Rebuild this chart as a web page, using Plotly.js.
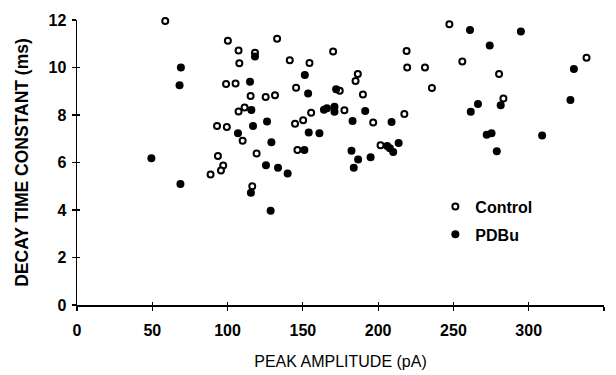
<!DOCTYPE html>
<html>
<head>
<meta charset="utf-8">
<script src="https://cdn.plot.ly/plotly-3.0.1.min.js"></script>
<style>html,body{margin:0;padding:0;background:#fff;}#chart{width:616px;height:375px;}</style>
</head>
<body>
<div id="chart"></div>
<script>
var controlX = [58.6,100.2,99,93,99.5,132.9,107.3,118.2,107.8,141.3,154.4,170.1,105.3,145.5,174.5,186.5,185,189.9,115.3,125.3,131.5,107.3,111.3,144.8,150.2,155.5,177.6,196.7,247.3,218.9,219.3,231.1,255.9,338.4,280.3,235.7,283.2,217.4,93.6,97.1,95.6,88.7,110,119.3,116.4,146.4,201.6];
var controlY = [11.96,11.13,9.3,7.54,7.5,11.21,10.72,10.62,10.18,10.3,10.19,10.67,9.33,9.15,9.02,9.73,9.43,8.86,8.8,8.76,8.83,8.15,8.32,7.63,7.78,8.1,8.2,7.68,11.82,10.69,10.0,10.0,10.25,10.41,9.73,9.14,8.69,8.04,6.27,5.87,5.66,5.49,6.92,6.38,5.0,6.53,6.73];
var pdbuX = [69,68.1,118.2,151.3,114.9,153.5,172.1,115.8,126.2,116.9,164,166,171,171,191.4,183,261,294.8,274.1,330,281.4,266.3,261.5,327.7,208.9,49.4,68.7,106.9,129.1,125.5,133.5,139.9,115.5,128.6,153.9,161,151,182.3,186.7,195,183.8,206,207.8,210,213.6,272.1,275.3,308.9,278.8];
var pdbuY = [10.0,9.25,10.46,9.68,9.40,8.91,9.08,8.21,7.73,7.54,8.22,8.28,8.35,8.14,8.17,7.75,11.58,11.52,10.93,9.94,8.41,8.46,8.14,8.63,7.71,6.18,5.09,7.23,6.85,5.88,5.78,5.54,4.73,3.97,7.26,7.23,6.53,6.5,6.13,6.22,5.78,6.69,6.6,6.44,6.82,7.17,7.23,7.14,6.47];
var xTicks = [0,50,100,150,200,250,300,350];
var yTicks = [0,2,4,6,8,10,12];
var seriesNames = ['Control','PDBu'];
var xTitle = 'PEAK AMPLITUDE (pA)';
var yTitle = 'DECAY TIME CONSTANT (ms)';

var FONT = 'Liberation Sans, Arial, sans-serif';
var traces = [
  {x: controlX, y: controlY, name: seriesNames[0], legendgroup: 'a', type: 'scatter', mode: 'markers', cliponaxis: false,
   marker: {symbol: 'circle', size: 6, color: '#ffffff', line: {color: '#000000', width: 2}}},
  {x: pdbuX, y: pdbuY, name: seriesNames[1], legendgroup: 'b', type: 'scatter', mode: 'markers', cliponaxis: false,
   marker: {symbol: 'circle', size: 8, color: '#000000', line: {width: 0}}},
  {x: [], y: [], xaxis: 'x2', yaxis: 'y2', type: 'scatter', mode: 'markers', showlegend: false, hoverinfo: 'skip'}
];
var axisCommon = {
  showgrid: false, zeroline: false, showline: true, linecolor: '#000', linewidth: 1.5,
  ticks: 'outside', ticklen: 4, tickwidth: 1.2, tickcolor: '#000',
  tickfont: {family: FONT, size: 16, color: '#000', weight: 'bold'}
};
var innerTicks = {
  showgrid: false, zeroline: false, showline: false, showticklabels: false,
  ticks: 'inside', ticklen: 3, tickwidth: 1.2, tickcolor: '#000'
};
var layout = {
  width: 616, height: 375,
  margin: {l: 77, r: 12, t: 20, b: 70},
  paper_bgcolor: '#fff', plot_bgcolor: '#fff',
  showlegend: true,
  legend: {x: 0.68, y: 0.405, xanchor: 'left', yanchor: 'top', bgcolor: 'rgba(0,0,0,0)',
           traceorder: 'grouped', tracegroupgap: 4,
           font: {family: FONT, size: 16, color: '#000', weight: 'bold'}},
  xaxis: Object.assign({}, axisCommon, {range: [0, 350], tickvals: xTicks, ticktext: xTicks.map(String),
    ticklabelstandoff: 6,
    title: {text: xTitle, standoff: 18, font: {family: FONT, size: 16, color: '#000'}}}),
  yaxis: Object.assign({}, axisCommon, {range: [0, 12], tickvals: yTicks, ticktext: yTicks.map(String),
    ticklabelstandoff: 2,
    title: {text: yTitle, standoff: 15, font: {family: FONT, size: 17.5, color: '#000', weight: 'bold'}}}),
  xaxis2: Object.assign({}, innerTicks, {range: [0, 350], tickvals: xTicks, overlaying: 'x', anchor: 'y2', side: 'bottom'}),
  yaxis2: Object.assign({}, innerTicks, {range: [0, 12], tickvals: yTicks, overlaying: 'y', anchor: 'x2', side: 'left'})
};
Plotly.newPlot('chart', traces, layout, {staticPlot: true, displayModeBar: false});
</script>
</body>
</html>
